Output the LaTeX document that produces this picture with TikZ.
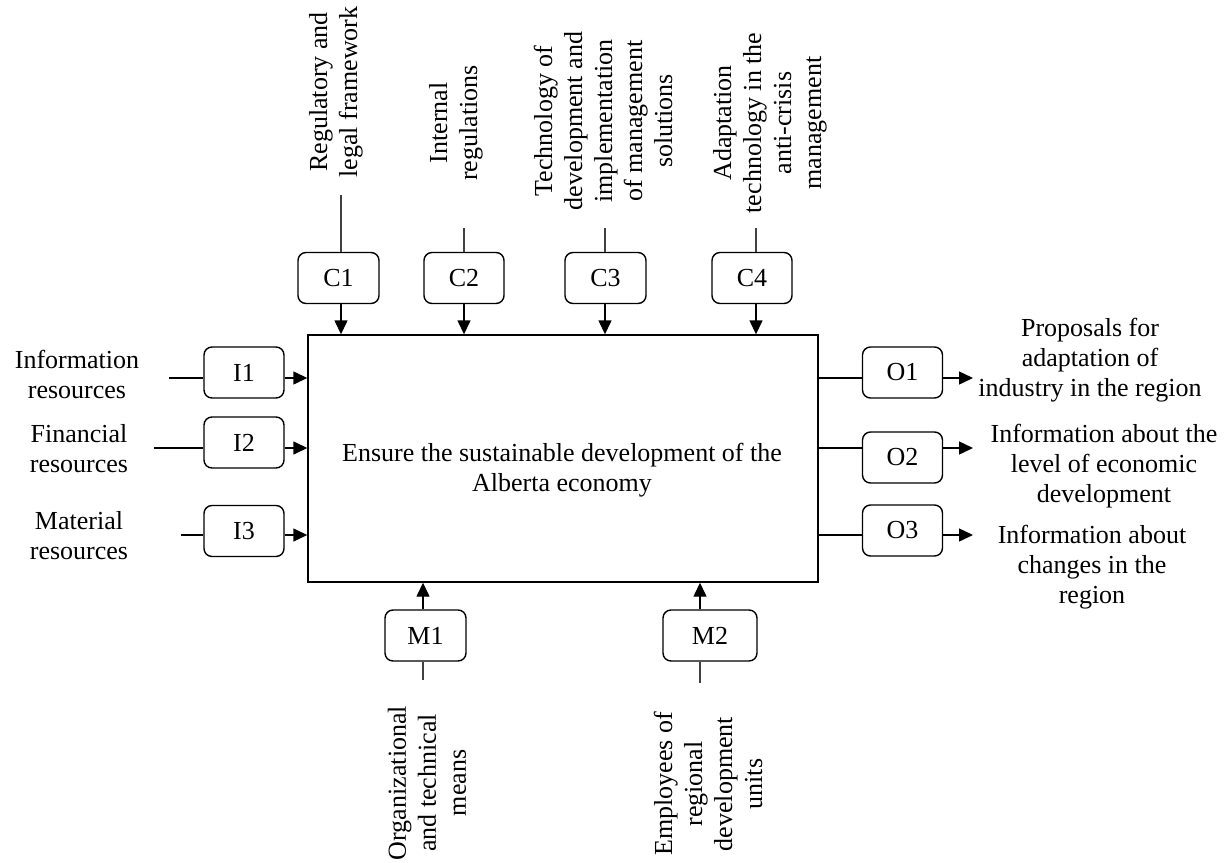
\documentclass[tikz,border=0pt]{standalone}
\usepackage{fontspec}
\setmainfont{Liberation Serif}
\usetikzlibrary{arrows.meta}
\begin{document}
\begin{tikzpicture}[x=1pt,y=-1pt,
  box/.style={draw,line width=1.4pt,rounded corners=8pt,minimum width=80pt,minimum height=51pt,inner sep=0pt,font=\fontsize{26}{30}\selectfont},
  lbl/.style={align=center,inner sep=0pt,font=\fontsize{26}{30}\selectfont},
  arr/.style={line width=1.4pt,-{Triangle[length=14pt,width=13pt]}},
  ln/.style={line width=1.4pt},
  gln/.style={line width=1.6pt,black!75}]
\useasboundingbox (0,0) rectangle (1231,862);

% main activity box
\node[draw,line width=1.4pt,minimum width=510pt,minimum height=247pt,inner sep=0pt] (main) at (563,458.5) {};
\node[lbl] (maintext) at (562,470) {Ensure the sustainable development of the\\Alberta economy};

% control boxes
\node[box,minimum width=81pt] (c1) at (338.5,278) {C1};
\node[box] (c2) at (464,278) {C2};
\node[box,minimum width=81pt] (c3) at (605.5,278) {C3};
\node[box] (c4) at (752,278) {C4};

% input boxes
\node[box] (i1) at (244,372.5) {I1};
\node[box] (i2) at (244,442.5) {I2};
\node[box] (i3) at (244,531) {I3};

% output boxes
\node[box] (o1) at (902.5,372.5) {O1};
\node[box] (o2) at (902.5,457.5) {O2};
\node[box] (o3) at (902.5,530.5) {O3};

% mechanism boxes
\node[box,minimum width=81pt] (m1) at (425.5,635.5) {M1};
\node[box,minimum width=94pt] (m2) at (710,635.5) {M2};

% control labels
\node[lbl,rotate=90] (lc1) at (336,92) {Regulatory and\\legal framework};
\node[lbl,rotate=90] (lc2) at (456,123) {Internal\\regulations};
\node[lbl,rotate=90] (lc3) at (603,121) {Technology of\\development and\\implementation\\of management\\solutions};
\node[lbl,rotate=90] (lc4) at (770,123) {Adaptation\\technology in the\\anti-crisis\\management};

% input labels
\node[lbl] (li1) at (77,374) {Information\\resources};
\node[lbl] (li2) at (79,449) {Financial\\resources};
\node[lbl] (li3) at (79,536) {Material\\resources};

% output labels
\node[lbl] (lo1) at (1090,360) {Proposals for\\adaptation of\\industry in the region};
\node[lbl] (lo2) at (1104,466) {Information about the\\level of economic\\development};
\node[lbl] (lo3) at (1092,567) {Information about\\changes in the\\region};

% mechanism labels
\node[lbl,rotate=90] (lm1) at (427,783) {Organizational\\and technical\\means};
\node[lbl,rotate=90] (lm2) at (708,784) {Employees of\\regional\\development\\units};

% connector end points
\coordinate (c1t) at (341,195);
\coordinate (c2t) at (464,228);
\coordinate (c3t) at (605,228);
\coordinate (c4t) at (756,228);
\coordinate (i1l) at (169,378);
\coordinate (i2l) at (154,448);
\coordinate (i3l) at (181,535);
\coordinate (o1r) at (973,378);
\coordinate (o2r) at (973,448);
\coordinate (o3r) at (973,535);
\coordinate (m1b) at (423,680);
\coordinate (m2b) at (700,683);

% controls
\foreach \c in {c1,c2,c3,c4}{
  \draw[gln] (\c t) -- (\c t |- \c.north);
  \draw[arr] (\c t |- \c.south) -- (\c t |- main.north);
}
% inputs
\foreach \i in {i1,i2,i3}{
  \draw[ln] (\i l) -- (\i l -| \i.west);
  \draw[arr] (\i l -| \i.east) -- (\i l -| main.west);
}
% outputs
\foreach \o in {o1,o2,o3}{
  \draw[ln] (\o r -| main.east) -- (\o r -| \o.west);
  \draw[arr] (\o r -| \o.east) -- (\o r);
}
% mechanisms
\foreach \m in {m1,m2}{
  \draw[gln] (\m b) -- (\m b |- \m.south);
  \draw[arr] (\m b |- \m.north) -- (\m b |- main.south);
}
\end{tikzpicture}
\end{document}
